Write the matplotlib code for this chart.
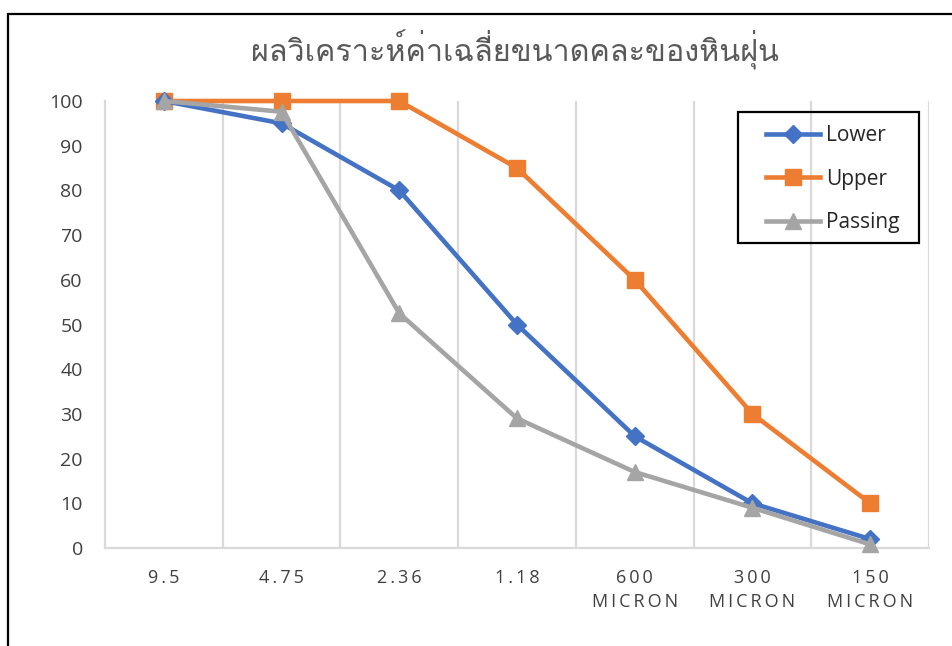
import matplotlib
matplotlib.use("Agg")
import matplotlib.pyplot as plt
from matplotlib import font_manager, ft2font
from matplotlib.patches import Rectangle

# ---- data ----
sieve_labels = ["9.5", "4.75", "2.36", "1.18", "600\nMICRON", "300\nMICRON", "150\nMICRON"]
lower = [100, 95, 80, 50, 25, 10, 2]
upper = [100, 100, 100, 85, 60, 30, 10]
passing = [100, 97.6, 52.5, 29, 17, 9, 0.8]
title = "ผลวิเคราะห์ค่าเฉลี่ยขนาดคละของหินฝุ่น"


def find_thai_family():
    """Return the name of an installed font family that covers Thai script."""
    seen = set()
    for f in font_manager.fontManager.ttflist:
        if f.name in seen:
            continue
        seen.add(f.name)
        try:
            cmap = ft2font.FT2Font(f.fname).get_charmap()
        except Exception:
            continue
        if all(ord(c) in cmap for c in "ผลวิเคราะห์"):
            return f.name
    return None


def spaced(label):
    """Letter-spaced rendering of a tick label (thin space between glyphs)."""
    return "\n".join("\u2009".join(line) for line in label.split("\n"))


thai_family = find_thai_family()
title_families = ([thai_family] if thai_family else []) + ["DejaVu Sans"]

plt.rcParams["font.family"] = ["Open Sans", "DejaVu Sans"]

W, H = 952, 646
fig = plt.figure(figsize=(W / 100, H / 100), dpi=100)

# plot area in pixel coordinates
px_left, px_right, px_top, px_bottom = 105, 929, 101, 548
ax = fig.add_axes([px_left / W, 1 - px_bottom / H,
                   (px_right - px_left) / W, (px_bottom - px_top) / H])

x = list(range(len(sieve_labels)))
grey_grid = "#D9D9D9"

ax.plot(x, lower, color="#4472C4", lw=3.3, marker="D", ms=9.5,
        label="Lower", zorder=3, clip_on=False)
ax.plot(x, upper, color="#ED7D31", lw=3.3, marker="s", ms=11.5,
        label="Upper", zorder=2, clip_on=False)
ax.plot(x, passing, color="#A5A5A5", lw=3.3, marker="^", ms=11.5,
        label="Passing", zorder=4, clip_on=False)

ax.set_xlim(-0.5, len(sieve_labels) - 0.5)
ax.set_ylim(0, 100)
ax.set_yticks(range(0, 101, 10))
ax.set_xticks(x)
ax.set_xticklabels([spaced(s) for s in sieve_labels], fontsize=13,
                   color="#404040", linespacing=1.45)
ax.tick_params(axis="y", labelsize=14, colors="#404040", length=0, pad=16)
ax.tick_params(axis="x", length=0, pad=15)

# category separators
for b in [i + 0.5 for i in range(len(sieve_labels))]:
    ax.axvline(b, color=grey_grid, lw=1.6, zorder=0)

for side in ["top", "right"]:
    ax.spines[side].set_visible(False)
for side in ["left", "bottom"]:
    ax.spines[side].set_color(grey_grid)
    ax.spines[side].set_linewidth(1.6)

# legend entries (transparent) with a separate black outline box
leg_left = (766 - px_left) / (px_right - px_left)
leg_top = (px_bottom - 125) / (px_bottom - px_top)
leg = ax.legend(loc="upper left", bbox_to_anchor=(leg_left, leg_top),
                fontsize=15, frameon=False,
                handlelength=2.6, labelspacing=1.08, borderpad=0,
                handletextpad=0.3, borderaxespad=0)
for t in leg.get_texts():
    t.set_color("#262626")
fig.add_artist(Rectangle((738 / W, 1 - 243 / H), 181 / W, 131 / H,
                         transform=fig.transFigure, fill=False,
                         edgecolor="black", lw=1.6, zorder=6))

fig.text(515 / W, 1 - 50 / H, title, family=title_families, fontsize=22,
         color="#595959", ha="center", va="center")

# outer chart frame
fig.add_artist(Rectangle((8 / W, -0.1), 1.2, 1 - 14 / H + 0.1,
                         transform=fig.transFigure, fill=False,
                         edgecolor="black", lw=1.6))

fig.savefig("out.png", dpi=100)
